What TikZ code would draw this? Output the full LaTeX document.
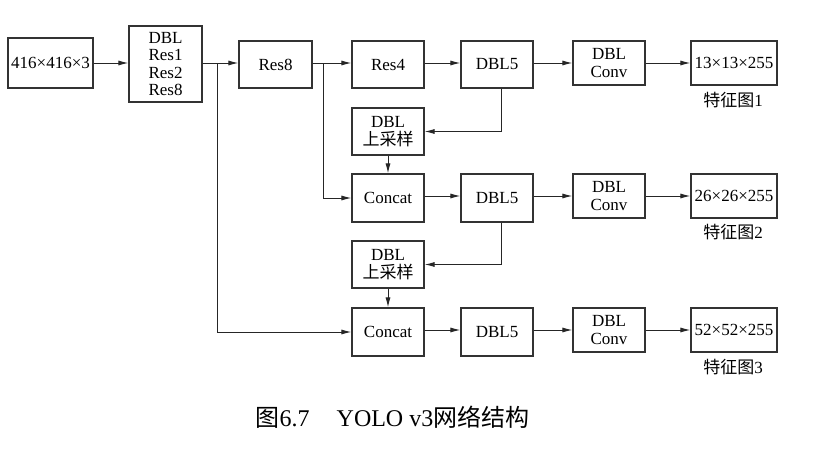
\documentclass[tikz,border=0pt]{standalone}
\usepackage{fontspec}
\setmainfont{Liberation Serif}
\newfontfamily\cjk{Noto Sans CJK SC}
\usetikzlibrary{arrows.meta}
\begin{document}
\begin{tikzpicture}[x=1pt,y=-1pt,
  box/.style={draw=black!80,line width=1.1pt,inner sep=0pt,align=center,
    font=\fontsize{17}{18}\selectfont,minimum width=72pt,minimum height=47pt},
  lbl/.style={inner sep=0pt,font=\fontsize{17}{18}\selectfont},
  arr/.style={draw=black!85,line width=1pt,-{Latex[length=10pt,width=5pt]}},
  ln/.style={draw=black!85,line width=1pt}]
\useasboundingbox[fill=white] (0,0) rectangle (814,450);
% row 1
\node[box,minimum width=85pt,minimum height=50pt] (in) at (50.5,63) {416×416×3};
\node[box,minimum width=73pt,minimum height=76pt,font=\fontsize{17}{17.6}\selectfont] (dbl) at (165.5,64) {DBL\\Res1\\Res2\\Res8};
\node[box,minimum width=73pt] (res8) at (275.5,64.5) {Res8};
\node[box] (res4) at (388,64.5) {Res4};
\node[box] (d5a) at (497,64.5) {DBL5};
\node[box,minimum height=44pt] (cv1) at (609,63) {DBL\\Conv};
\node[box,minimum width=86pt,minimum height=44pt] (o1) at (734,63) {13×13×255};
\node[lbl] (l1) at (733,100) {{\cjk 特征图}1};
% upsample 1
\node[box] (up1) at (388,131.5) {DBL\\{\cjk 上采样}};
% row 2
\node[box,minimum height=48pt] (c1) at (388,198) {Concat};
\node[box,minimum height=48pt] (d5b) at (497,198) {DBL5};
\node[box,minimum height=44pt] (cv2) at (609,196) {DBL\\Conv};
\node[box,minimum width=86pt,minimum height=44pt] (o2) at (734,196) {26×26×255};
\node[lbl] (l2) at (733,232) {{\cjk 特征图}2};
% upsample 2
\node[box] (up2) at (388,264.5) {DBL\\{\cjk 上采样}};
% row 3
\node[box,minimum height=48pt] (c3) at (388,332) {Concat};
\node[box,minimum height=48pt] (d5c) at (497,332) {DBL5};
\node[box,minimum height=44pt] (cv3) at (609,330) {DBL\\Conv};
\node[box,minimum width=86pt,minimum height=44pt] (o3) at (734,330) {52×52×255};
\node[lbl] (l3) at (733,367) {{\cjk 特征图}3};
% caption
\node[inner sep=0pt,font=\fontsize{24}{26}\selectfont] (cap) at (392.5,417) {{\cjk 图}6.7\hspace{27pt}YOLO v3{\cjk 网络结构}};
% junctions
\coordinate (j1) at (217,63);
\coordinate (j2) at (323,63);
% connectors row 1
\draw[arr] (in.east) -- (in.east -| dbl.west);
\draw[arr] (dbl.east |- in.east) -- (res8.west |- in.east);
\draw[arr] (res8.east |- in.east) -- (res4.west |- in.east);
\draw[arr] (res4.east |- in.east) -- (d5a.west |- in.east);
\draw[arr] (d5a.east |- in.east) -- (cv1.west |- in.east);
\draw[arr] (cv1.east) -- (o1.west);
\draw[arr] (j1) |- (c3.west);
\draw[arr] (j2) |- (c1.west);
\draw[arr] ([xshift=4pt]d5a.south) |- (up1.east);
\draw[arr] (up1.south) -- (c1.north);
% row 2
\draw[arr] (c1.east |- cv2.west) -- (d5b.west |- cv2.west);
\draw[arr] (d5b.east |- cv2.west) -- (cv2.west);
\draw[arr] (cv2.east) -- (o2.west);
\draw[arr] ([xshift=4pt]d5b.south) |- (up2.east);
\draw[arr] (up2.south) -- (c3.north);
% row 3
\draw[arr] (c3.east |- cv3.west) -- (d5c.west |- cv3.west);
\draw[arr] (d5c.east |- cv3.west) -- (cv3.west);
\draw[arr] (cv3.east) -- (o3.west);
\end{tikzpicture}
\end{document}
